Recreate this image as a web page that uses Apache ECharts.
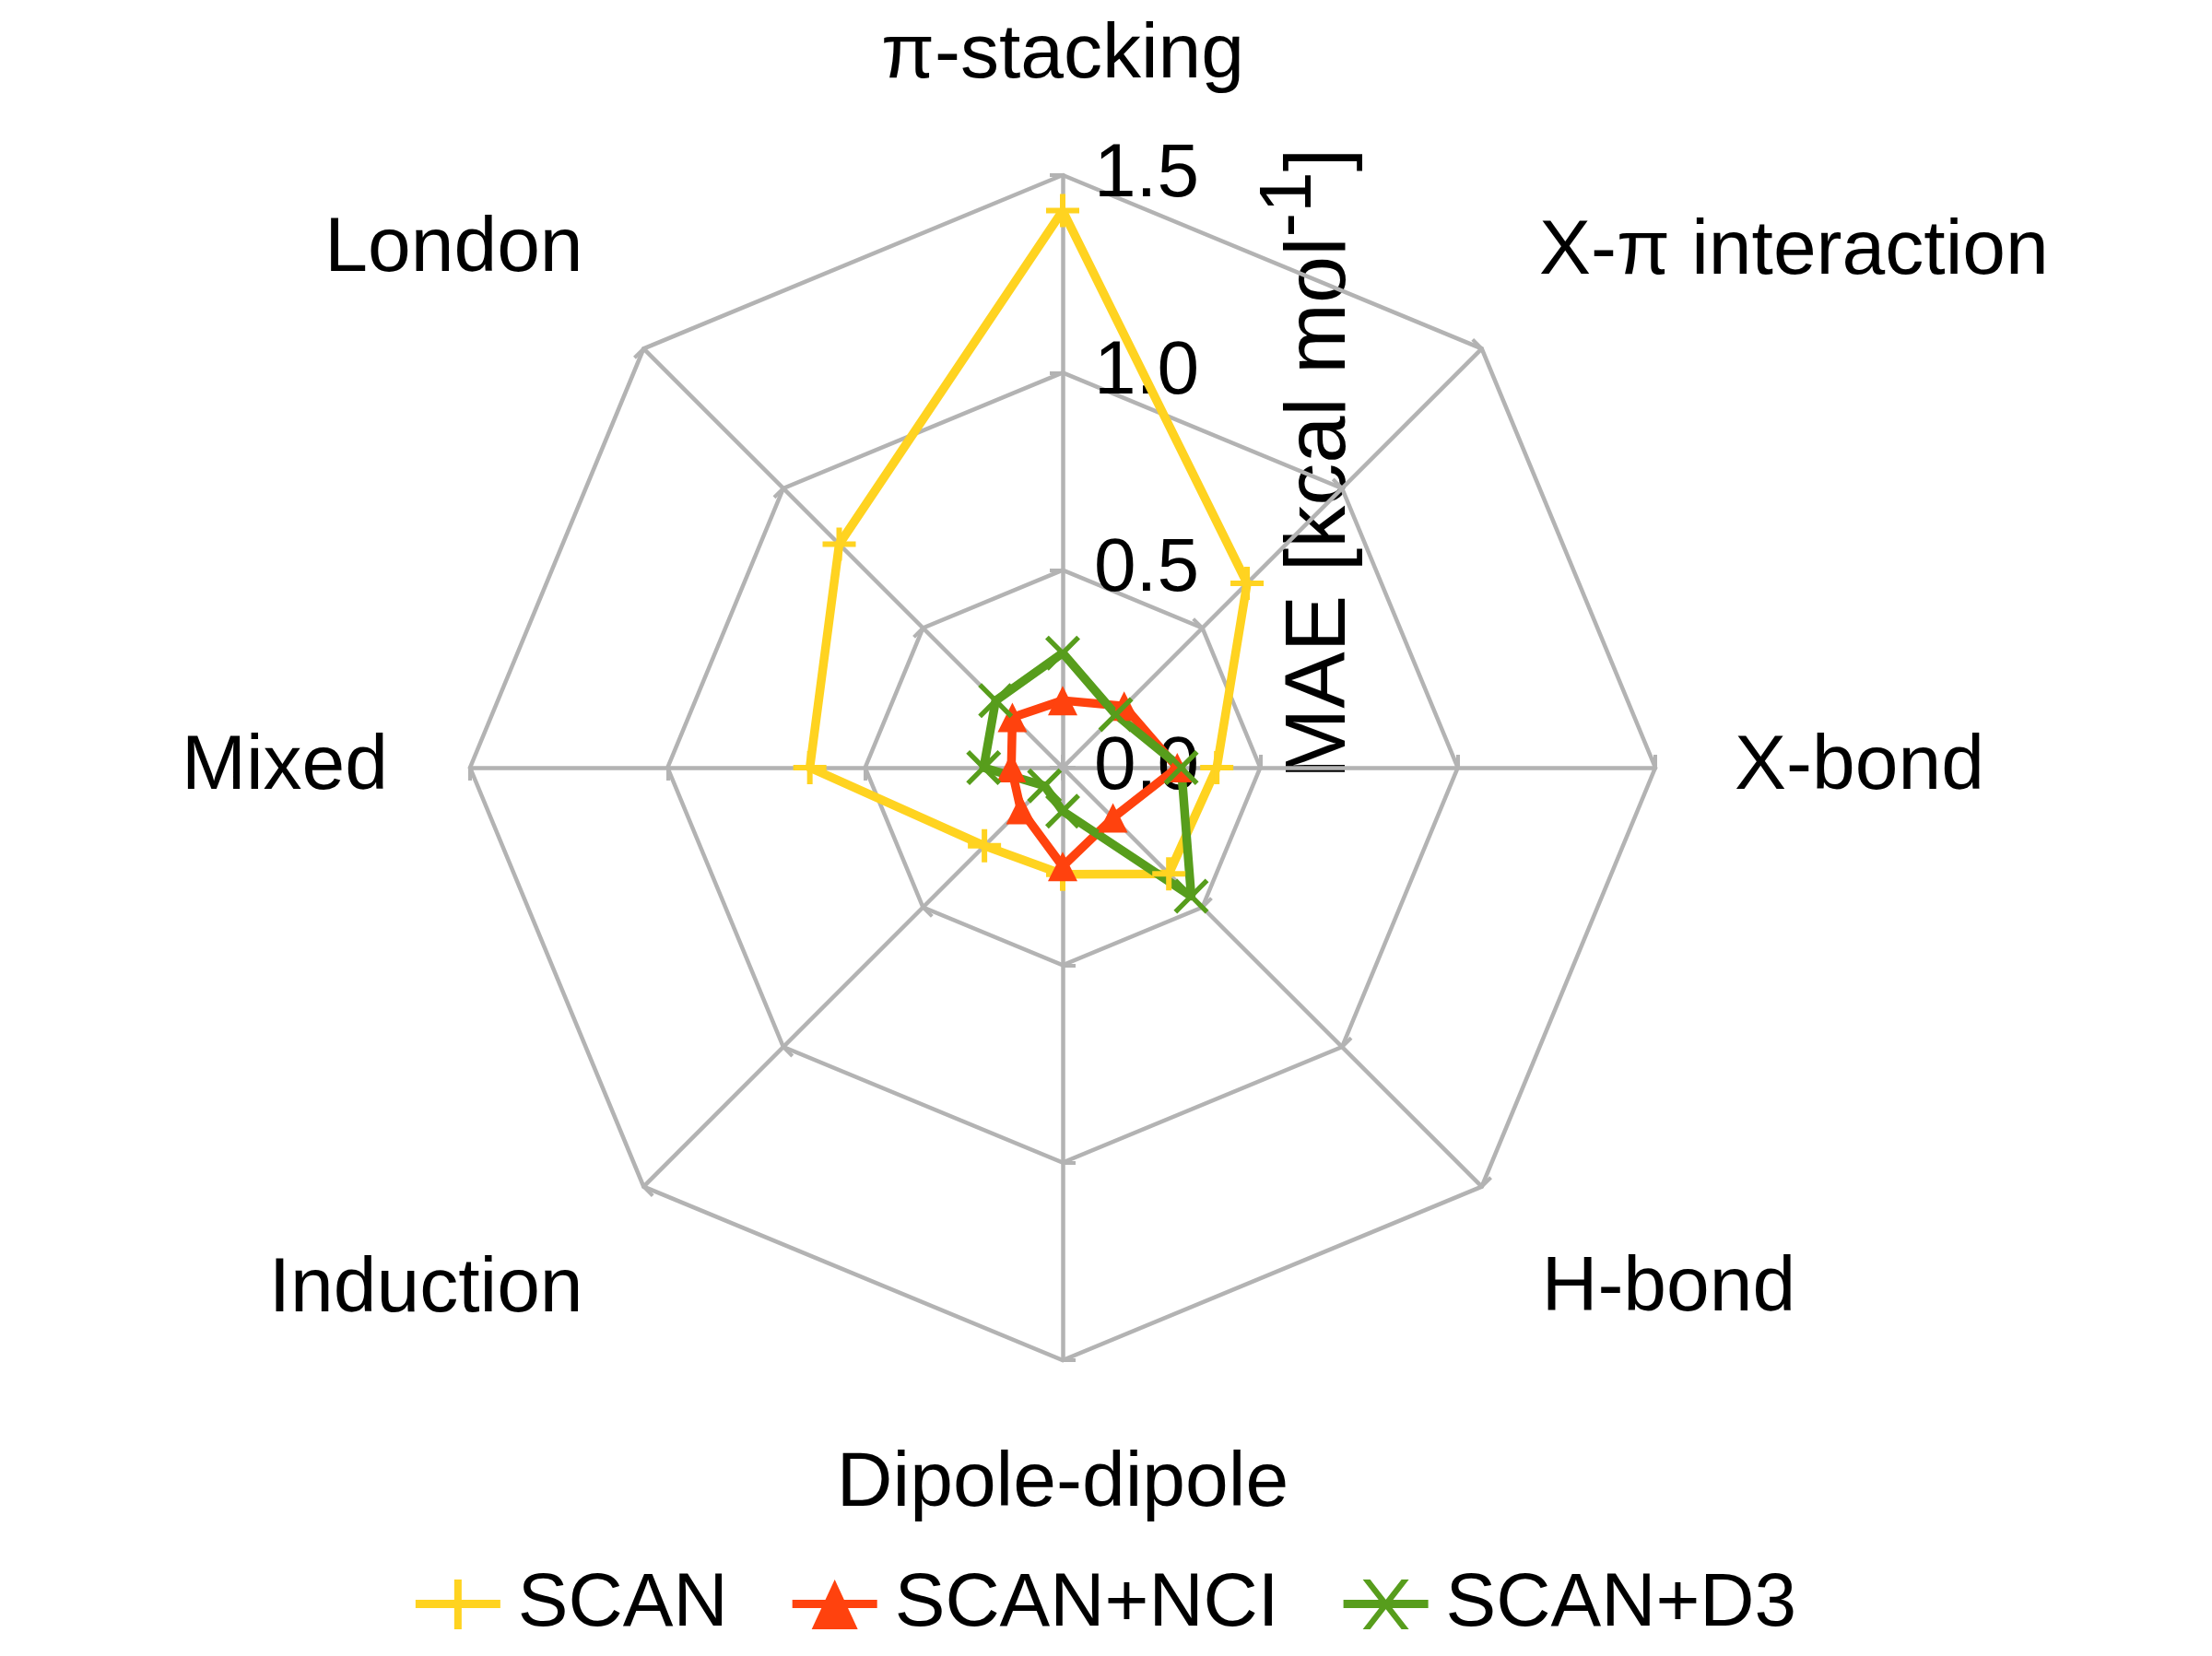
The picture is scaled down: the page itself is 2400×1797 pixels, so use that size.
<!DOCTYPE html>
<html><head><meta charset="utf-8">
<script src="https://cdn.jsdelivr.net/npm/echarts@6/dist/echarts.min.js"></script>
<style>html,body{margin:0;padding:0;background:#fff}#c{width:2400px;height:1797px}</style>
</head><body><div id="c"></div>
<script>
// Categories in the order they appear clockwise from the top of the figure
const categories = ['π-stacking', 'X-π interaction', 'X-bond', 'H-bond', 'Dipole-dipole', 'Induction', 'Mixed', 'London'];
const scan    = [1.41, 0.66, 0.39, 0.38, 0.27, 0.28, 0.64, 0.80];
const scanNci = [0.17, 0.22, 0.29, 0.18, 0.25, 0.15, 0.13, 0.18];
const scanD3  = [0.29, 0.19, 0.30, 0.46, 0.11, 0.065, 0.20, 0.24];
const seriesNames = ['SCAN', 'SCAN+NCI', 'SCAN+D3'];
const tickLabels = ['0.0', '0.5', '1.0', '1.5'];
const axisMin = 0, axisMax = 1.5;

const FONT = 'Liberation Sans';
const colors = ['#ffd320', '#ff420e', '#579d1c'];
const GRID = '#b3b3b3';

// ECharts lays radar indicators counter-clockwise; the figure reads clockwise.
const n = categories.length;
const ecOrder = categories.map((c, i) => (i === 0 ? 0 : n - i));
const reorder = arr => ecOrder.map(i => arr[i]);

// label layout per clockwise position: gap from outer ring and vertical nudge style
const labelLayout = [
  {gap: 87, nudge: null},
  {gap: 88, nudge: 'up'},
  {gap: 86, nudge: null},
  {gap: 92, nudge: 'down'},
  {gap: 93, nudge: null},
  {gap: 93, nudge: 'down'},
  {gap: 89, nudge: null},
  {gap: 93, nudge: 'up'}
];

const indicator = ecOrder.map(ci => {
  const ind = {name: categories[ci], min: axisMin, max: axisMax, nameGap: labelLayout[ci].gap};
  if (ci === 0) {
    ind.axisLabel = {
      show: true, margin: -34, align: 'left', verticalAlign: 'middle',
      color: '#000', fontSize: 82, fontFamily: FONT,
      formatter: v => tickLabels[Math.round((v - axisMin) / 0.5)]
    };
  }
  return ind;
});

const symbols = [
  'path://M-2.5,-15 L2.5,-15 L2.5,-2.5 L15,-2.5 L15,2.5 L2.5,2.5 L2.5,15 L-2.5,15 L-2.5,2.5 L-15,2.5 L-15,-2.5 L-2.5,-2.5 Z',
  'triangle',
  'path://M-15,-12 L-12,-15 L0,-3 L12,-15 L15,-12 L3,0 L15,12 L12,15 L0,3 L-12,15 L-15,12 L-3,0 Z'
];
const symbolSizes = [36, 32, 38];
const legendIcons = [
  'path://M0,22 L92,22 L92,31 L0,31 Z M42,0 L50,0 L50,54 L42,54 Z',
  'path://M0,22 L92,22 L92,31 L0,31 Z M46,0 L71,54 L21,54 Z',
  'path://M0,22 L92,22 L92,31 L0,31 Z M21,0 L29,0 L71,54 L63,54 Z M63,0 L71,0 L29,54 L21,54 Z'
];
const values = [scan, scanNci, scanD3];

const nameStyle = {fontSize: 84, fontFamily: FONT, color: '#000'};

const chart = echarts.init(document.getElementById('c'));
chart.setOption({
  animation: false,
  backgroundColor: '#fff',
  legend: {
    data: seriesNames.map((nm, i) => ({name: nm, icon: legendIcons[i]})),
    left: 'center', top: 1695,
    itemWidth: 92, itemHeight: 54, itemGap: 70,
    textStyle: {color: '#000', fontSize: 82, fontFamily: FONT, padding: [0, 0, 0, 14]}
  },
  radar: {
    center: [1153, 833], radius: 643,
    startAngle: 90, shape: 'polygon', splitNumber: 3,
    axisName: Object.assign({}, nameStyle, {
      formatter: function (name) {
        const ci = categories.indexOf(name);
        const nd = ci >= 0 ? labelLayout[ci].nudge : null;
        return nd ? '{' + nd + '|' + name + '}' : name;
      },
      rich: {
        up: Object.assign({}, nameStyle, {padding: [0, 0, 84, 0]}),
        down: Object.assign({}, nameStyle, {padding: [92, 0, 0, 0]})
      }
    }),
    axisLine: {show: true, lineStyle: {color: GRID, width: 4.5}},
    axisTick: {show: true, length: 14, lineStyle: {color: GRID, width: 4}},
    axisLabel: {show: false},
    splitLine: {lineStyle: {color: GRID, width: 4.5}},
    splitArea: {show: false},
    indicator: indicator
  },
  series: [{
    type: 'radar',
    data: seriesNames.map((nm, i) => ({
      name: nm,
      value: reorder(values[i]),
      symbol: symbols[i],
      symbolSize: symbolSizes[i],
      lineStyle: {color: colors[i], width: 9.5},
      itemStyle: {color: colors[i]}
    }))
  }],
  graphic: [{
    type: 'text', x: 1420, y: 503, rotation: Math.PI / 2,
    style: {
      text: '{m|MAE [kcal mol}{s|-1}{m|]}',
      align: 'center', verticalAlign: 'middle',
      rich: {
        m: {fontSize: 92, fontFamily: FONT, fill: '#000', lineHeight: 120, verticalAlign: 'bottom'},
        s: {fontSize: 80, fontFamily: FONT, fill: '#000', lineHeight: 80, verticalAlign: 'top'}
      }
    }
  }]
});
</script></body></html>
